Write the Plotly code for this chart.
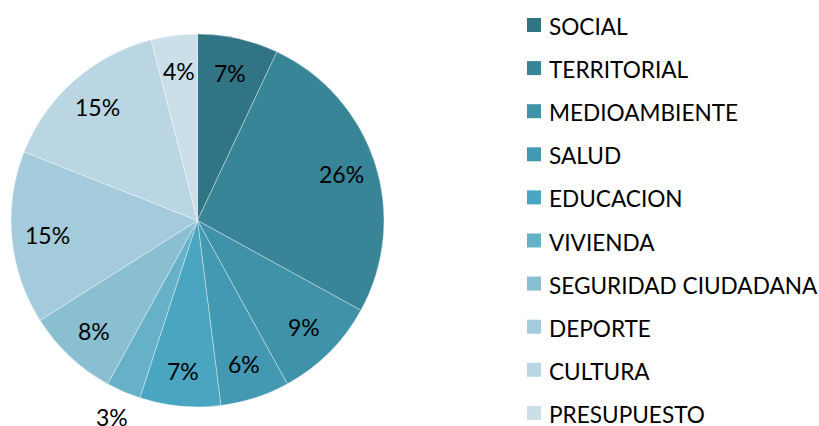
import math
import plotly.graph_objects as go

# Share of proposals by area (percent)
categories = ["SOCIAL", "TERRITORIAL", "MEDIOAMBIENTE", "SALUD", "EDUCACION",
              "VIVIENDA", "SEGURIDAD CIUDADANA", "DEPORTE", "CULTURA", "PRESUPUESTO"]
values = [7, 26, 9, 6, 7, 3, 8, 15, 15, 4]
colors = ["#317485", "#388597", "#3f92a8", "#4499b2", "#4aa6c0",
          "#66b1c8", "#8abfd1", "#a4cbdb", "#b9d6e2", "#cbdfe8"]
# slices whose value label sits outside the pie
outside = {"VIVIENDA"}

FONT = "Lato, Carlito, Calibri, sans-serif"
W, H = 819, 426

# pie box in pixels: centre (197.5, 220.5), radius 186.5
cx, cy, r = 197.5, 220.5, 186.5

fig = go.Figure()
fig.add_trace(go.Pie(
    labels=categories,
    values=values,
    sort=False,
    direction="clockwise",
    rotation=0,
    marker=dict(colors=colors, line=dict(color="rgba(255,255,255,0.6)", width=0.6)),
    textinfo="none",
    showlegend=False,
    hoverinfo="label+percent",
    domain=dict(x=[(cx - r) / W, (cx + r) / W],
                y=[1 - (cy + r) / H, 1 - (cy - r) / H]),
))

# value labels placed along each slice's mid-angle
total = sum(values)
cum = 0
annotations = []
for name, v in zip(categories, values):
    mid = (cum + v / 2) / total * 2 * math.pi
    cum += v
    k = 1.15 if name in outside else 0.81
    px = cx + k * r * math.sin(mid)
    py = cy - k * r * math.cos(mid)
    annotations.append(dict(
        x=px / W, y=1 - py / H, xref="paper", yref="paper",
        text=f"{round(v / total * 100)}%", showarrow=False,
        xanchor="center", yanchor="middle",
        font=dict(family=FONT, size=23, color="#000000"),
    ))

# legend: colour square plus category name
shapes = []
leg_x0, leg_y0, leg_step, sq = 527, 25, 43.1, 14
for i, (name, col) in enumerate(zip(categories, colors)):
    yc = leg_y0 + i * leg_step
    shapes.append(dict(
        type="rect", xref="paper", yref="paper",
        x0=leg_x0 / W, x1=(leg_x0 + sq) / W,
        y0=1 - (yc + sq / 2) / H, y1=1 - (yc - sq / 2) / H,
        fillcolor=col, line=dict(width=0),
    ))
    annotations.append(dict(
        x=547 / W, y=1 - (yc + 1.5) / H, xref="paper", yref="paper",
        text=name, showarrow=False, xanchor="left", yanchor="middle",
        font=dict(family=FONT, size=22.6, color="#000000"),
    ))

fig.update_layout(
    width=W, height=H,
    margin=dict(l=0, r=0, t=0, b=0),
    paper_bgcolor="white",
    plot_bgcolor="white",
    showlegend=False,
    shapes=shapes,
    annotations=annotations,
)

fig.write_html("out.html")
